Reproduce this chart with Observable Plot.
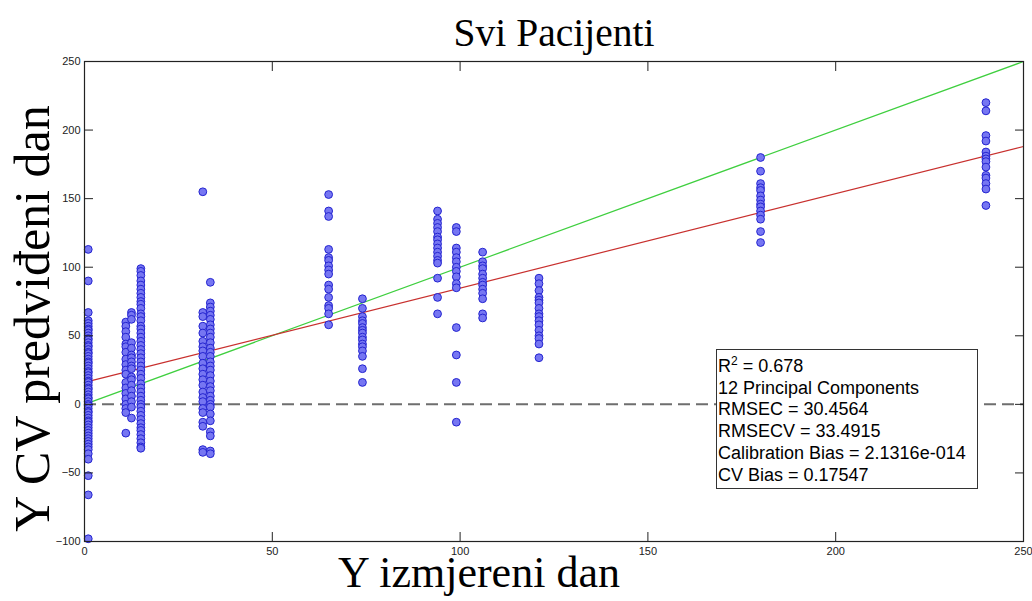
<!DOCTYPE html>
<html><head><meta charset="utf-8">
<script src="https://cdn.jsdelivr.net/npm/d3@7"></script>
<script src="https://cdn.jsdelivr.net/npm/@observablehq/plot@0.6"></script>
<style>
body{margin:0;background:#fff;}
#wrap{position:relative;width:1032px;height:601px;overflow:hidden;}
#stats{position:absolute;left:716px;top:349px;width:262px;height:140px;border:1px solid #333;background:#fff;font-family:"Liberation Sans",Arial,sans-serif;font-size:18px;line-height:21.7px;padding:6px 0 0 1px;box-sizing:border-box;color:#000;white-space:nowrap;}
#stats sup{font-size:12px;line-height:0;}
</style></head><body><div id="wrap"></div>
<script>
// ---- texts ----
const titleText = "Svi Pacijenti";
const xLabelText = "Y izmjereni dan";
const yLabelText = "Y CV predviđeni dan";
const statNames = ["R", "12 Principal Components", "RMSEC", "RMSECV", "Calibration Bias", "CV Bias"];
const statValues = ["0.678", "", "30.4564", "33.4915", "2.1316e-014", "0.17547"];

// ---- axis ticks ----
const xTicks = [0, 50, 100, 150, 200, 250];
const yTicks = [-100, -50, 0, 50, 100, 150, 200, 250];

// ---- measured day (x) of each column ----
const colDays = [1, 11, 12.5, 15, 31.5, 33.5, 65, 74, 94, 99, 106, 121, 180, 240];

// ---- predicted values per column ----
const col1 = [113, 90, 67, 61, 59, 57, 55, 54, 52, 50, 48, 47, 45, 43, 42, 40, 38, 37, 35, 33, 31, 30, 28, 26, 24, 23, 21, 19, 17, 16, 14, 12, 11, 9, 7, 5, 4, 2, 0, -1, -3, -5, -6, -8, -10, -12, -13, -15, -17, -19, -21, -23, -25, -27, -29, -31, -33, -36, -40, -52, -66, -98];
const col11 = [60, 57, 53, 49, 44, 42, 38, 33, 29, 25, 22, 16, 12, 8, 4, 0, -3, -6, -21];
const col12 = [67, 65, 62, 45, 41, 36, 34, 31, 28, 26, 20, 18, 14, 10, 6, 2, -2, -10];
const col15 = [99, 97, 94, 90, 87, 84, 81, 78, 75, 73, 70, 66, 64, 61, 57, 55, 52, 49, 46, 43, 40, 37, 34, 31, 28, 25, 22, 19, 15, 12, 9, 6, 3, 0, -2, -5, -8, -11, -14, -17, -19, -22, -25, -28, -31, -32];
const col31 = [155, 67, 64, 57, 52, 46, 42, 39, 35, 30, 26, 22, 18, 14, 9, 5, 2, -3, -6, -13, -16, -33, -35];
const col33 = [89, 74, 71, 68, 65, 62, 58, 55, 52, 49, 45, 41, 38, 35, 31, 28, 25, 21, 17, 13, 10, 6, 3, 0, -2, -7, -12, -20, -23, -34, -36];
const col65 = [153, 141, 137, 113, 107, 105, 101, 98, 95, 87, 84, 78, 72, 70, 66, 58];
const col74 = [77, 70, 64, 61, 59, 56, 54, 52, 49, 47, 44, 42, 39, 35, 26, 16];
const col94 = [141, 135, 132, 129, 126, 122, 120, 117, 114, 111, 108, 105, 103, 92, 78, 66];
const col99 = [129, 126, 114, 111, 107, 104, 100, 97, 93, 88, 85, 56, 36, 16, -13];
const col106 = [111, 104, 101, 99, 95, 92, 89, 87, 84, 81, 77, 66, 63];
const col121 = [92, 88, 83, 78, 76, 74, 70, 66, 64, 61, 58, 54, 50, 48, 44, 34];
const col180 = [180, 170, 161, 158, 156, 152, 149, 146, 144, 141, 138, 135, 126, 118];
const col240 = [220, 214, 196, 192, 184, 181, 179, 177, 173, 167, 165, 161, 157, 145];
const colValues = [col1, col11, col12, col15, col31, col33, col65, col74, col94, col99, col106, col121, col180, col240];

// ---- fit lines ----
const lineX = [0, 250];
const idealY = [0, 250];     // green: y = x
const fitY = [16, 188];      // red: regression

// build tables
const points = [];
colDays.forEach((d, i) => colValues[i].forEach(v => points.push({x: d, y: v})));
const idealLine = lineX.map((x, i) => ({x, y: idealY[i]}));
const fitLine = lineX.map((x, i) => ({x, y: fitY[i]}));

const serif = "'Liberation Serif','Times New Roman',serif";
const sans = "'Liberation Sans',Arial,sans-serif";

const chart = Plot.plot({
  width: 1032,
  height: 601,
  marginLeft: 84,
  marginRight: 9,
  marginTop: 61,
  marginBottom: 60,
  style: {fontFamily: sans, fontSize: "11px", color: "#222", background: "#fff", overflow: "visible"},
  x: {domain: [0, 250]},
  y: {domain: [-100, 250]},
  marks: [
    Plot.ruleY([0], {stroke: "#6e6e6e", strokeWidth: 2, strokeDasharray: "12,6"}),
    Plot.line(idealLine, {x: "x", y: "y", stroke: "#3fcf3f", strokeWidth: 1.2}),
    Plot.line(fitLine, {x: "x", y: "y", stroke: "#c8302e", strokeWidth: 1.2}),
    Plot.dot(points, {x: "x", y: "y", r: 3.9, fill: "#7676f2", stroke: "#2424d0", strokeWidth: 1}),
    Plot.frame({stroke: "#222", strokeWidth: 1.2}),
    Plot.axisX(xTicks, {anchor: "bottom", tickSize: -9, tickPadding: 15, label: null, fontSize: 11}),
    Plot.axisX(xTicks, {anchor: "top", tickSize: -9, tickFormat: () => "", label: null}),
    Plot.axisY(yTicks, {anchor: "left", tickSize: -9, tickPadding: 13, label: null, fontSize: 11}),
    Plot.axisY(yTicks, {anchor: "right", tickSize: -9, tickFormat: () => "", label: null}),
    Plot.text([titleText], {text: d => d, frameAnchor: "top", lineAnchor: "bottom", dy: -16, fontSize: 39.5, fontFamily: serif, fill: "#000"}),
    Plot.text([xLabelText], {text: d => d, frameAnchor: "bottom", textAnchor: "middle", lineAnchor: "bottom", dx: -75, dy: 45, fontSize: 44, fontFamily: serif, fill: "#000"}),
    Plot.text([yLabelText], {text: d => d, frameAnchor: "left", textAnchor: "middle", lineAnchor: "bottom", rotate: -90, dx: -36, dy: 17, fontSize: 50, fontFamily: serif, fill: "#000"})
  ]
});
const wrap = document.getElementById("wrap");
wrap.appendChild(chart);

// statistics box
const box = document.createElement("div");
box.id = "stats";
box.innerHTML = statNames.map((n, i) => {
  if (i === 0) return `<div>${n}<sup>2</sup> = ${statValues[i]}</div>`;
  return `<div>${statValues[i] ? n + " = " + statValues[i] : n}</div>`;
}).join("");
wrap.appendChild(box);
</script>
</body></html>
